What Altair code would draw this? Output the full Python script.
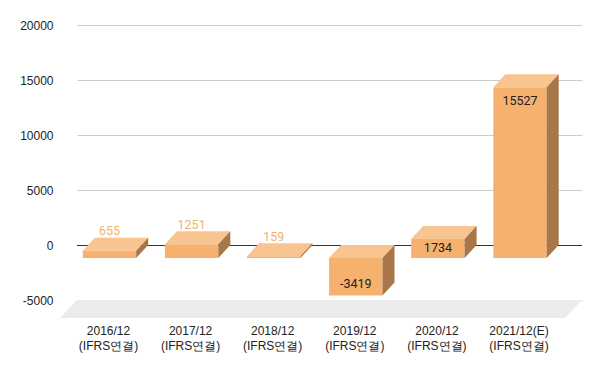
import altair as alt
import pandas as pd

# ---- data ----
categories = ["2016/12", "2017/12", "2018/12", "2019/12", "2020/12", "2021/12(E)"]
sublabels = ["(IFRS연결)", "(IFRS연결)", "(IFRS연결)", "(IFRS연결)", "(IFRS연결)", "(IFRS연결)"]
values = [655, 1251, 159, -3419, 1734, 15527]
y_ticks = [-5000, 0, 5000, 10000, 15000, 20000]

# ---- styling / geometry constants ----
W, H = 505, 275
Y0, Y1 = -5000, 20000
K = (Y1 - Y0) / H          # data units per pixel (vertical)
STEP = 82.1                # pixels per category
X0 = -44.5 / STEP
X1 = X0 + W / STEP
HW = 26.7 / STEP           # half bar width
DX = 12 / STEP             # 3D depth, horizontal
DY = 13 * K                # 3D depth, vertical
FRONT = "#F5B16D"
TOP = "#F8C48F"
SIDE = "#A77649"
FLOOR = "#EBEBEB"
TEXT = "#222222"

front_rows, top_rows, side_rows, label_rows = [], [], [], []
for i, v in enumerate(values):
    lo, hi = min(v, 0), max(v, 0)
    front_rows.append(dict(bar=i, xa=i - HW - DX, xb=i + HW - DX, ya=lo - DY, yb=hi - DY))
    top_rows.append(dict(bar=i, y=hi, xa=i - HW, xb=i + HW))
    top_rows.append(dict(bar=i, y=hi - DY, xa=i - HW - DX, xb=i + HW - DX))
    side_rows.append(dict(bar=i, x=i + HW - DX, ya=lo - DY, yb=hi - DY))
    side_rows.append(dict(bar=i, x=i + HW, ya=lo, yb=hi))
    face_px = abs(v) / K
    if face_px < 16:
        ly, col = v + 6.5 * K, FRONT
    elif face_px < 28:
        ly, col = v / 2 - DY, TEXT
    elif v > 0:
        ly, col = v - DY - 13.5 * K, TEXT
    else:
        ly, col = v - DY + 11.5 * K, TEXT
    label_rows.append(dict(x=i - DX, y=ly, text=str(v), color=col))

front_df = pd.DataFrame(front_rows)
top_df = pd.DataFrame(top_rows)
side_df = pd.DataFrame(side_rows)
label_df = pd.DataFrame(label_rows)
floor_df = pd.DataFrame([
    dict(y=Y0, xa=X0, xb=X1),
    dict(y=Y0 - 18 * K, xa=X0 - 17 / STEP, xb=X1 - 17 / STEP),
])
zero_df = pd.DataFrame([dict(xa=X0, xb=X1, y=0)])

xs = alt.Scale(domain=[X0, X1], nice=False, zero=False)
ys = alt.Scale(domain=[Y0, Y1], nice=False, zero=False)

label_arr = "[" + ",".join(
    "['%s','%s']" % (c, s) for c, s in zip(categories, sublabels)
) + "]"
xaxis = alt.Axis(
    title=None, values=list(range(len(categories))), grid=False, domain=False,
    ticks=False, tickSize=0, labelExpr=label_arr + "[datum.value]",
    labelOffset=-13.5, labelPadding=30, labelBaseline="middle",
    labelLineHeight=15.5, labelFont="Liberation Sans", labelFontSize=12,
    labelColor=TEXT, labelAlign="center",
)
yaxis = alt.Axis(
    title=None, values=y_ticks, grid=True, gridColor="#CCCCCC", domain=False,
    ticks=False, tickSize=0, labelPadding=24, labelFont="Liberation Sans",
    labelFontSize=12, labelColor=TEXT, labelExpr="'' + datum.value",
)


def X(f):
    return alt.X(f, type="quantitative", scale=xs, axis=xaxis)


def Y(f):
    return alt.Y(f, type="quantitative", scale=ys, axis=yaxis)


floor = alt.Chart(floor_df).mark_area(orient="horizontal", color=FLOOR).encode(
    y=Y("y"), x=X("xa"), x2="xb"
)
zero = alt.Chart(zero_df).mark_rule(color="#333333", strokeWidth=1, yOffset=0.5).encode(
    x=X("xa"), x2="xb", y=Y("y")
)
front = alt.Chart(front_df).mark_rect(color=FRONT).encode(
    x=X("xa"), x2="xb", y=Y("ya"), y2="yb"
)
top = alt.Chart(top_df).mark_area(orient="horizontal", color=TOP).encode(
    y=Y("y"), x=X("xa"), x2="xb", detail="bar:N"
)
side = alt.Chart(side_df).mark_area(orient="vertical", color=SIDE).encode(
    x=X("x"), y=Y("ya"), y2="yb", detail="bar:N"
)
labels = alt.Chart(label_df).mark_text(
    font="Roboto", fontSize=12.5, baseline="middle", align="center"
).encode(
    x=X("x"), y=Y("y"), text="text:N", color=alt.Color("color:N", scale=None)
)

chart = alt.layer(floor, zero, front, top, side, labels).properties(
    width=W, height=H,
    autosize=alt.AutoSizeParams(type="none"),
    padding={"left": 77, "top": 25, "right": 18, "bottom": 71},
    background="white",
).configure_view(stroke=None)

chart.save("out.html", embed_options={"renderer": "svg", "actions": False})
